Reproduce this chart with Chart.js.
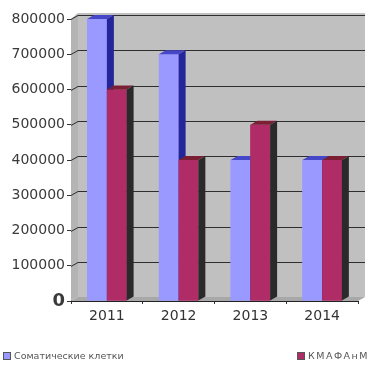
<!DOCTYPE html>
<html>
<head>
<meta charset="utf-8">
<script src="https://cdn.jsdelivr.net/npm/chart.js@4/dist/chart.umd.min.js"></script>
<style>
  html, body { margin: 0; padding: 0; background: #fff; }
  #wrap { position: relative; width: 392px; height: 365px; overflow: hidden; }
  #resultChart { position: absolute; left: 0; top: 0; }
  .legend-item {
    position: absolute; top: 351px; height: 10px;
    font-family: "DejaVu Sans", sans-serif; font-size: 9.5px; line-height: 10px;
    color: #555; white-space: nowrap;
  }
  .legend-item span {
    display: inline-block; width: 8px; height: 8px; margin-right: 3px;
    vertical-align: -1px; border: 1px solid #555; box-sizing: border-box;
  }
</style>
</head>
<body>
<div id="wrap">
  <canvas id="resultChart" width="392" height="365"></canvas>
  <div class="legend-item" id="leg0" style="left:3px"></div>
  <div class="legend-item" id="leg1" style="left:297px; letter-spacing:1.5px"></div>
</div>
<script>
// データ
const years = ["2011", "2012", "2013", "2014"];
const seriesNames = ["Соматические клетки", "КМАФАнМ"];
const somaticCells = [800000, 700000, 400000, 400000];
const kmafanm = [600000, 400000, 500000, 400000];
const yTicks = [0, 100000, 200000, 300000, 400000, 500000, 600000, 700000, 800000];

// 色（前面・上面・側面）
const frontColors = ["#9999ff", "#b02c66"];
const topColors = ["#4646c8", "#7a1f34"];
const sideColors = ["#25259a", "#2a2a2a"];

// 奥行き
const DX = 7;
const DY = -4;

// 凡例（HTML）
seriesNames.forEach((name, i) => {
  const el = document.getElementById("leg" + i);
  el.innerHTML = '<span style="background:' + frontColors[i] + '"></span>' + name;
});

function poly(ctx, pts, fill) {
  ctx.beginPath();
  ctx.moveTo(pts[0][0], pts[0][1]);
  for (let i = 1; i < pts.length; i++) ctx.lineTo(pts[i][0], pts[i][1]);
  ctx.closePath();
  ctx.fillStyle = fill;
  ctx.fill();
}

// 3Dの壁・床と棒の立体部分
const wallPlugin = {
  id: "wall3d",
  beforeDatasetsDraw(chart) {
    const { ctx, chartArea: a, scales } = chart;
    ctx.save();
    // 奥の壁
    poly(ctx, [[a.left + DX, a.top + DY - 2], [a.right + DX, a.top + DY - 2],
               [a.right + DX, a.bottom + DY], [a.left + DX, a.bottom + DY]], "#c0c0c0");
    // 左の壁
    poly(ctx, [[a.left, a.top], [a.left + DX, a.top + DY - 2],
               [a.left + DX, a.bottom + DY], [a.left, a.bottom]], "#b4b4b4");
    // 床
    poly(ctx, [[a.left, a.bottom], [a.left + DX, a.bottom + DY],
               [a.right + DX, a.bottom + DY], [a.right, a.bottom]], "#a8a8a8");
    // 目盛線
    ctx.strokeStyle = "#2e2e2e";
    ctx.lineWidth = 1;
    yTicks.forEach((v) => {
      if (v === 0) return;
      const y = Math.round(scales.y.getPixelForValue(v)) + 0.5;
      ctx.beginPath();
      ctx.moveTo(a.left, y);
      ctx.lineTo(a.left + DX, y + DY);
      ctx.lineTo(a.right + DX, y + DY);
      ctx.stroke();
    });
    ctx.restore();
  },
  // 左の系列から順に前面・上面・側面を描き直す
  afterDatasetsDraw(chart) {
    const { ctx } = chart;
    const metas = [chart.getDatasetMeta(0), chart.getDatasetMeta(1)];
    ctx.save();
    years.forEach((_, j) => {
      metas.forEach((meta, i) => {
        const bar = meta.data[j];
        const l = bar.x - bar.width / 2;
        const r = bar.x + bar.width / 2;
        const t = bar.y;
        const b = bar.base;
        poly(ctx, [[l, t], [r, t], [r, b], [l, b]], frontColors[i]);
        poly(ctx, [[l, t], [l + DX, t + DY], [r + DX, t + DY], [r, t]], topColors[i]);
        poly(ctx, [[r, t], [r + DX, t + DY], [r + DX, b + DY], [r, b]], sideColors[i]);
      });
    });
    ctx.restore();
  },
};

const ctx = document.getElementById("resultChart").getContext("2d");
new Chart(ctx, {
  type: "bar",
  data: {
    labels: years,
    datasets: [
      {
        label: seriesNames[0],
        data: somaticCells,
        backgroundColor: frontColors[0],
        borderWidth: 0,
        categoryPercentage: 0.55,
        barPercentage: 1,
      },
      {
        label: seriesNames[1],
        data: kmafanm,
        backgroundColor: frontColors[1],
        borderWidth: 0,
        categoryPercentage: 0.55,
        barPercentage: 1,
      },
    ],
  },
  options: {
    responsive: false,
    animation: false,
    layout: { padding: { left: 0, right: 34, top: 19, bottom: 0 } },
    plugins: {
      legend: { display: false },
      tooltip: { enabled: false },
    },
    scales: {
      x: {
        grid: {
          display: true,
          drawOnChartArea: false,
          drawTicks: true,
          tickLength: 3,
          color: "#333",
        },
        border: { display: true, color: "#222", width: 1 },
        ticks: {
          color: "#333",
          padding: 4,
          font: { family: "DejaVu Sans", size: 14 },
        },
        afterFit: (s) => { s.height = 64; },
      },
      y: {
        min: 0,
        max: 800000,
        afterBuildTicks: (s) => { s.ticks = yTicks.map((v) => ({ value: v })); },
        grid: {
          display: true,
          drawOnChartArea: false,
          drawTicks: true,
          tickLength: 4,
          color: "#333",
        },
        border: { display: true, color: "#222", width: 1 },
        ticks: {
          color: "#3a3a3a",
          padding: 2,
          callback: (v) => String(v),
          font: (c) => c.tick && c.tick.value === 0
            ? { family: "DejaVu Sans", size: 18, weight: "bold" }
            : { family: "DejaVu Sans", size: 14 },
        },
        afterFit: (s) => { s.width = 71; },
      },
    },
  },
  plugins: [wallPlugin],
});
</script>
</body>
</html>
